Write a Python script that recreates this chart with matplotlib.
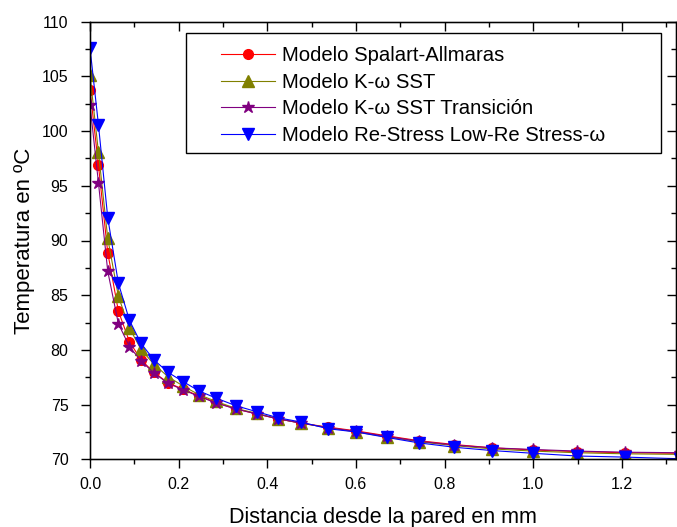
import numpy as np
import matplotlib.pyplot as plt
from matplotlib.ticker import MultipleLocator
from matplotlib.patches import Rectangle

plt.rcParams['font.family'] = ['Liberation Sans', 'DejaVu Sans']

# distance from wall (mm)
x = [0.0, 0.019, 0.040, 0.064, 0.089, 0.115, 0.144, 0.176, 0.210, 0.246,
     0.284, 0.329, 0.376, 0.424, 0.477, 0.536, 0.600, 0.669, 0.742, 0.822,
     0.907, 0.999, 1.099, 1.207, 1.33]

t_sa = [103.8, 96.9, 88.9, 83.55, 80.75, 79.1, 77.95, 77.0, 76.4, 75.8,
        75.2, 74.6, 74.15, 73.7, 73.3, 72.95, 72.6, 72.15, 71.7, 71.35,
        71.05, 70.85, 70.7, 70.6, 70.55]
t_sst = [105.1, 98.1, 90.2, 84.9, 82.0, 80.05, 78.7, 77.55, 76.7, 75.9,
         75.3, 74.65, 74.2, 73.7, 73.3, 72.9, 72.5, 72.05, 71.6, 71.25,
         70.95, 70.75, 70.6, 70.5, 70.45]
t_trans = [102.4, 95.3, 87.2, 82.4, 80.3, 79.0, 77.9, 76.95, 76.35, 75.75,
           75.15, 74.6, 74.15, 73.7, 73.3, 72.9, 72.55, 72.1, 71.65, 71.3,
           71.05, 70.9, 70.75, 70.65, 70.6]
t_rs = [107.6, 100.6, 92.1, 86.1, 82.7, 80.6, 79.1, 77.95, 77.1, 76.25,
        75.6, 74.9, 74.35, 73.8, 73.4, 72.8, 72.5, 72.0, 71.5, 71.1,
        70.8, 70.55, 70.3, 70.2, 70.05]

labels = ['Modelo Spalart-Allmaras', 'Modelo K-ω SST',
          'Modelo K-ω SST Transición', 'Modelo Re-Stress Low-Re Stress-ω']

fig = plt.figure(figsize=(6.77, 5.27), dpi=100)
ax = fig.add_axes([90/677, 1-459.3/527, 586/677, 437.6/527])

ax.plot(x, t_sa, '-o', color='#ff0000', lw=0.8, ms=7, label=labels[0])
ax.plot(x, t_sst, '-^', color='#808000', lw=0.8, ms=8, label=labels[1])
ax.plot(x, t_trans, '-*', color='#800080', lw=0.8, ms=9, label=labels[2])
ax.plot(x, t_rs, '-v', color='#0000ff', lw=0.8, ms=8, label=labels[3])

ax.set_xlim(0, 1.322)
ax.set_ylim(70, 110)
ax.xaxis.set_major_locator(MultipleLocator(0.2))
ax.xaxis.set_minor_locator(MultipleLocator(0.1))
ax.yaxis.set_major_locator(MultipleLocator(5))
ax.yaxis.set_minor_locator(MultipleLocator(2.5))
ax.xaxis.set_major_formatter(plt.FormatStrFormatter('%.1f'))
ax.tick_params(which='both', direction='out', width=1, labelsize=11.5)
ax.tick_params(which='major', length=6.5)
ax.tick_params(which='minor', length=3.6)
ax.tick_params(axis='y', pad=9)
ax.tick_params(axis='x', pad=6)
for s in ax.spines.values():
    s.set_linewidth(1)

# mirrored ticks on top and right pointing inward
ax.tick_params(which='both', top=False, right=False)
axt = ax.twiny()
axt.set_xlim(ax.get_xlim())
axt.xaxis.set_major_locator(MultipleLocator(0.2))
axt.xaxis.set_minor_locator(MultipleLocator(0.1))
axt.tick_params(which='both', direction='in', labeltop=False, width=1)
axt.tick_params(which='major', length=6.5)
axt.tick_params(which='minor', length=3.6)
axr = ax.twinx()
axr.set_ylim(ax.get_ylim())
axr.yaxis.set_major_locator(MultipleLocator(5))
axr.yaxis.set_minor_locator(MultipleLocator(2.5))
axr.tick_params(which='both', direction='in', labelright=False, width=1)
axr.tick_params(which='major', length=6.5)
axr.tick_params(which='minor', length=3.6)

ax.set_xlabel('Distancia desde la pared en mm', fontsize=15.5, labelpad=11)
ax.set_ylabel('Temperatura en ºC', fontsize=16, labelpad=5)

# legend frame drawn separately (Origin-style wide left padding)
ax.add_patch(Rectangle((0.1638, 0.700), 0.8106, 0.274, transform=ax.transAxes,
                       facecolor='white', edgecolor='black', lw=1, zorder=4))
leg = ax.legend(loc='upper left', bbox_to_anchor=(0.223, 0.9436),
                borderaxespad=0, borderpad=0, frameon=False,
                fontsize=14.6, handlelength=2.7, handletextpad=0.3,
                labelspacing=0.37)
leg.set_zorder(5)

fig.savefig('out.png', dpi=100)
